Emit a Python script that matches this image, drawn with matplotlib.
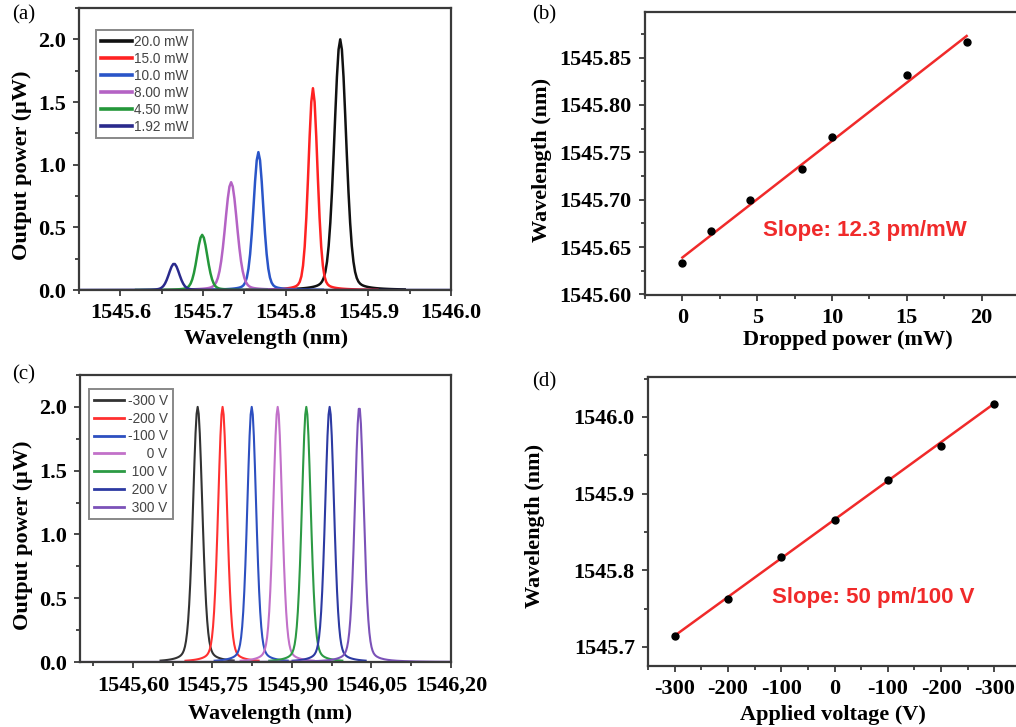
import numpy as np
import matplotlib
matplotlib.use('Agg')
import matplotlib.pyplot as plt
from matplotlib.ticker import MultipleLocator, AutoMinorLocator, FixedLocator, FixedFormatter, FormatStrFormatter, FuncFormatter

# ---------------- data ----------------
# (a) spectra vs dropped power: peak centre (nm), peak height (uW), FWHM (nm)
a_labels = ['20.0 mW', '15.0 mW', '10.0 mW', '8.00 mW', '4.50 mW', '1.92 mW']
a_centers = [1545.866, 1545.833, 1545.767, 1545.734, 1545.699, 1545.665]
a_heights = [2.00, 1.61, 1.10, 0.86, 0.44, 0.21]
a_fwhm = [0.017, 0.013, 0.014, 0.017, 0.015, 0.015]
a_colors = ['#111111', '#ff2222', '#2a55c8', '#b463c4', '#24973a', '#2a2a8c']

# (b) resonance wavelength vs dropped power
b_power = [0, 1.92, 4.5, 8.0, 10.0, 15.0, 19.0]
b_wavelength = [1545.633, 1545.667, 1545.700, 1545.732, 1545.766, 1545.832, 1545.866]
b_fit_intercept = 1545.639
b_fit_slope = 0.0123  # nm/mW

# (c) spectra vs applied voltage
c_labels = ['-300 V', '-200 V', '-100 V', '0 V', '100 V', '200 V', '300 V']
c_centers = [1545.722, 1545.769, 1545.824, 1545.873, 1545.927, 1545.971, 1546.027]
c_heights = [2.00, 2.00, 2.00, 2.00, 2.00, 2.00, 2.00]
c_fwhm = [0.021, 0.020, 0.020, 0.020, 0.020, 0.020, 0.020]
c_colors = ['#333333', '#ff3030', '#2d4fc0', '#c271c9', '#2c9a44', '#2d3aa2', '#7b52b8']

# (d) resonance wavelength vs applied voltage
d_voltage = [-300, -200, -100, 0, 100, 200, 300]
d_wavelength = [1545.714, 1545.763, 1545.817, 1545.865, 1545.918, 1545.962, 1546.017]
d_tick_labels = ['-300', '-200', '-100', '0', '-100', '-200', '-300']
d_fit_intercept = 1545.866
d_fit_slope = 0.000505  # nm/V

# ---------------- figure ----------------
W, H = 1016, 727
plt.rcParams['font.family'] = ['Liberation Serif', 'DejaVu Serif']
plt.rcParams['font.weight'] = 'bold'
plt.rcParams['mathtext.default'] = 'regular'
fig = plt.figure(figsize=(W / 100, H / 100), dpi=100)

SANS = ['Liberation Sans', 'DejaVu Sans']
SPINE = '#3a3a3a'
RED = '#f02a2a'
TICK_FS = 16
LAB_FS = 16


def px_axes(l, t, r, b):
    return fig.add_axes([l / W, 1 - b / H, (r - l) / W, (b - t) / H])


def style(ax):
    for s in ax.spines.values():
        s.set_linewidth(1.6)
        s.set_color(SPINE)
    ax.tick_params(which='both', direction='out', width=1.3, color=SPINE, top=False, right=False)
    ax.tick_params(which='major', length=4.5, labelsize=TICK_FS, pad=5)
    ax.tick_params(which='minor', length=2.8)


def profile(x, c, h, w, eta=0.2):
    u = (x - c) / w
    g = np.exp(-4 * np.log(2) * u ** 2)
    lor = 1.0 / (1.0 + 4 * u ** 2)
    return h * (eta * lor + (1 - eta) * g)


# ---------- (a) ----------
ax = px_axes(79, 8, 451, 290)
xlim_a = (1545.55, 1546.0)
for i, (c, h, w, col, lab) in enumerate(zip(a_centers, a_heights, a_fwhm, a_colors, a_labels)):
    if i == len(a_centers) - 1:
        x = np.arange(xlim_a[0], xlim_a[1] + 1e-9, 0.002)
    else:
        x = np.arange(c - 0.08, c + 0.08, 0.002)
    ax.plot(x, profile(x, c, h, w), color=col, lw=1.8, label=lab)
ax.set_xlim(*xlim_a)
ax.set_ylim(0, 2.25)
ax.xaxis.set_major_locator(MultipleLocator(0.1))
ax.xaxis.set_minor_locator(AutoMinorLocator(2))
ax.yaxis.set_major_locator(MultipleLocator(0.5))
ax.yaxis.set_minor_locator(AutoMinorLocator(2))
ax.xaxis.set_major_formatter(FormatStrFormatter('%.1f'))
ax.yaxis.set_major_formatter(FormatStrFormatter('%.1f'))
style(ax)
ax.set_xlabel('Wavelength (nm)', fontsize=LAB_FS, fontweight='bold')
ax.set_ylabel('Output power (μW)', fontsize=LAB_FS, fontweight='bold')
ax.xaxis.set_label_coords(0.503, -0.14)
ax.yaxis.set_label_coords(-0.125, 0.443)
leg = ax.legend(loc='upper left', bbox_to_anchor=(0.045, 0.922), borderaxespad=0,
                prop={'family': SANS, 'weight': 'normal', 'size': 9.8},
                handlelength=2.3, handletextpad=0.15, labelspacing=0.22,
                borderpad=0.35, fancybox=False, framealpha=1, edgecolor='#888888')
leg.get_frame().set_linewidth(1.4)
for t in leg.get_texts():
    t.set_color('#444444')
for l in leg.get_lines():
    l.set_linewidth(2.6)

# ---------- (b) ----------
ax = px_axes(645, 12, 1019, 294.5)
ax.plot(b_power, b_wavelength, 'o', color='black', ms=5.0, zorder=3)
xf = np.array([b_power[0], b_power[-1]])
ax.plot(xf, b_fit_intercept + b_fit_slope * xf, color=RED, lw=1.8, zorder=2)
ax.set_xlim(-2.5, 22.5)
ax.set_ylim(1545.60, 1545.898)
ax.xaxis.set_major_locator(MultipleLocator(5))
ax.xaxis.set_minor_locator(AutoMinorLocator(2))
ax.yaxis.set_major_locator(MultipleLocator(0.05))
ax.yaxis.set_minor_locator(AutoMinorLocator(2))
ax.yaxis.set_major_formatter(FormatStrFormatter('%.2f'))
style(ax)
ax.set_xlabel('Dropped power (mW)', fontsize=LAB_FS, fontweight='bold')
ax.set_ylabel('Wavelength (nm)', fontsize=LAB_FS, fontweight='bold')
ax.xaxis.set_label_coords(0.543, -0.127)
ax.yaxis.set_label_coords(-0.25, 0.476)
ax.text(5.37, 1545.668, 'Slope: 12.3 pm/mW', color=RED, fontsize=16, fontweight='bold',
        family=SANS, ha='left', va='center')

# ---------- (c) ----------
ax = px_axes(80, 375, 451, 662)
xlim_c = (1545.50, 1546.20)
for i, (c, h, w, col, lab) in enumerate(zip(c_centers, c_heights, c_fwhm, c_colors, c_labels)):
    if i == len(c_centers) - 1:
        x = np.arange(xlim_c[0], xlim_c[1] + 1e-9, 0.002)
    else:
        x = np.arange(c - 0.07, c + 0.07, 0.002)
    ax.plot(x, profile(x, c, h, w, eta=0.25), color=col, lw=1.5, label=lab)
ax.set_xlim(*xlim_c)
ax.set_ylim(0, 2.25)
ax.xaxis.set_major_locator(MultipleLocator(0.15))
ax.xaxis.set_minor_locator(AutoMinorLocator(2))
ax.yaxis.set_major_locator(MultipleLocator(0.5))
ax.yaxis.set_minor_locator(AutoMinorLocator(2))
ax.xaxis.set_major_formatter(FuncFormatter(lambda v, p: f'{v:.2f}'.replace('.', ',')))
ax.yaxis.set_major_formatter(FormatStrFormatter('%.1f'))
style(ax)
ax.set_xlabel('Wavelength (nm)', fontsize=LAB_FS, fontweight='bold')
ax.set_ylabel('Output power (μW)', fontsize=LAB_FS, fontweight='bold')
ax.xaxis.set_label_coords(0.512, -0.146)
ax.yaxis.set_label_coords(-0.127, 0.442)
handles, labels = ax.get_legend_handles_labels()
pad = {'-300 V': '', '-200 V': '', '-100 V': '', '0 V': '     ', '100 V': ' ', '200 V': ' ', '300 V': ' '}
labels = [pad[l] + l for l in labels]
leg = ax.legend(handles, labels, loc='upper left', bbox_to_anchor=(0.024, 0.951), borderaxespad=0,
                prop={'family': SANS, 'weight': 'normal', 'size': 9.8},
                handlelength=2.2, handletextpad=0.3, labelspacing=0.28,
                borderpad=0.35, fancybox=False, framealpha=1, edgecolor='#888888')
leg.get_frame().set_linewidth(1.4)
for t in leg.get_texts():
    t.set_color('#444444')
for l in leg.get_lines():
    l.set_linewidth(2.0)

# ---------- (d) ----------
ax = px_axes(648, 377, 1021, 666)
ax.plot(d_voltage, d_wavelength, 'o', color='black', ms=5.0, zorder=3)
xf = np.array([d_voltage[0], d_voltage[-1]])
ax.plot(xf, d_fit_intercept + d_fit_slope * xf, color=RED, lw=1.8, zorder=2)
ax.set_xlim(-350, 350)
ax.set_ylim(1545.675, 1546.052)
ax.xaxis.set_major_locator(FixedLocator(d_voltage))
ax.xaxis.set_major_formatter(FixedFormatter(d_tick_labels))
ax.xaxis.set_minor_locator(AutoMinorLocator(2))
ax.yaxis.set_major_locator(MultipleLocator(0.1))
ax.yaxis.set_minor_locator(AutoMinorLocator(2))
ax.yaxis.set_major_formatter(FormatStrFormatter('%.1f'))
style(ax)
ax.set_xlabel('Applied voltage (V)', fontsize=LAB_FS, fontweight='bold')
ax.set_ylabel('Wavelength (nm)', fontsize=LAB_FS, fontweight='bold')
ax.xaxis.set_label_coords(0.496, -0.136)
ax.yaxis.set_label_coords(-0.276, 0.484)
ax.text(-117, 1545.765, 'Slope: 50 pm/100 V', color=RED, fontsize=16, fontweight='bold',
        family=SANS, ha='left', va='center')

# panel labels
for lab, xp, yp in [('(a)', 12, 15), ('(b)', 532, 15), ('(c)', 12, 375), ('(d)', 532, 382)]:
    fig.text(xp / W, 1 - yp / H, lab, fontsize=15, fontweight='normal', ha='left', va='center')

fig.savefig('out.png', dpi=100)
